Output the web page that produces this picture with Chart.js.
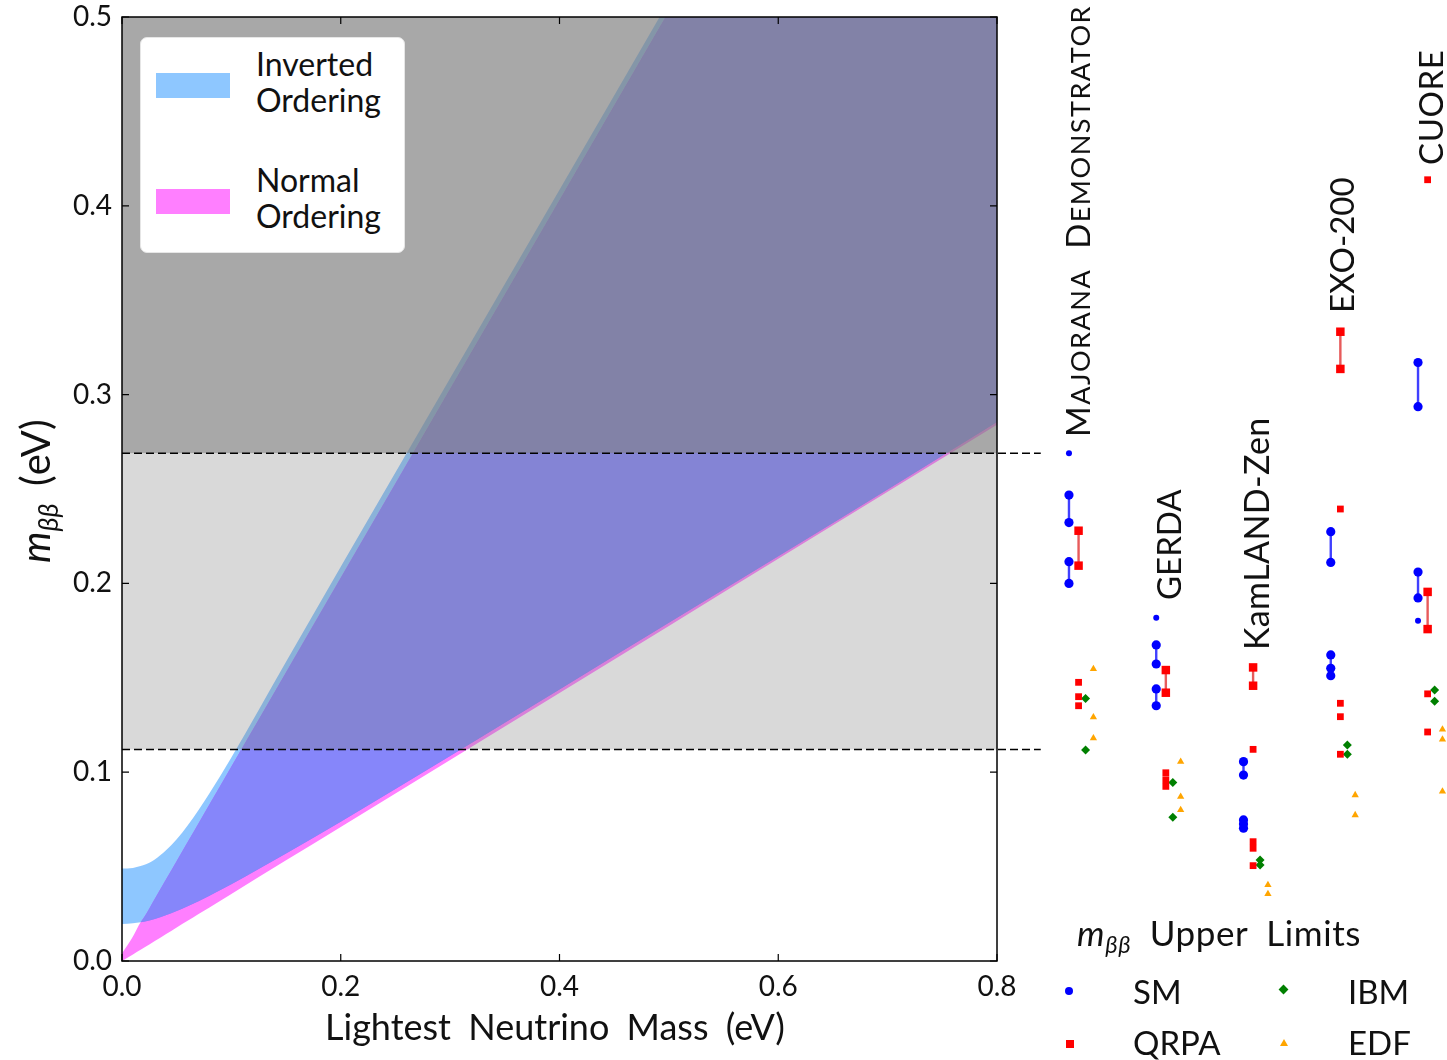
<!DOCTYPE html>
<html>
<head>
<meta charset="utf-8">
<title>m_bb limits</title>
<script src="https://cdn.jsdelivr.net/npm/chart.js@4.4.1/dist/chart.umd.min.js"></script>
<style>
  body { margin: 0; background: #fff; }
  #page { position: relative; width: 1447px; height: 1060px; overflow: hidden;
          font-family: Lato, "DejaVu Sans", sans-serif; color: #111; }
  #page canvas { position: absolute; top: 0; }
  .rot { position: absolute; transform: rotate(-90deg); transform-origin: 0 0;
         white-space: nowrap; line-height: 1; }
  .sc { font-size: 0.82em; text-transform: uppercase; }
  .sub { font-size: 0.68em; font-style: italic; position: relative; top: 0.3em; }
  .txt { position: absolute; white-space: nowrap; line-height: 1; }
  #ordLegend { position: absolute; left: 140px; top: 37px; width: 263px; height: 214px;
               background: #fff; border: 1px solid #e6e6e6; border-radius: 7px; }
  .patch { position: absolute; width: 74px; height: 25px; }
  .mk { position: absolute; }
</style>
</head>
<body>
<div id="page">
  <canvas id="main" width="1447" height="1060" style="left:0"></canvas>
  <canvas id="limits" width="407" height="1060" style="left:1040px"></canvas>

  <div id="ordLegend">
    <div class="patch" style="left:15px;top:35px;background:rgba(30,144,255,0.5)"></div>
    <div class="txt" style="left:115px;top:8px;font-size:32px;line-height:36px">Inverted<br>Ordering</div>
    <div class="patch" style="left:15px;top:151px;background:rgba(255,0,255,0.5)"></div>
    <div class="txt" style="left:115px;top:124px;font-size:32px;line-height:36px">Normal<br>Ordering</div>
  </div>

  <div class="txt" id="xTitle" style="font-size:36px;word-spacing:8px">Lightest Neutrino Mass (eV)</div>
  <div class="rot" id="yTitle" style="font-size:40px;word-spacing:7px"><i>m</i><span class="sub">ββ</span> (eV)</div>

  <div class="rot exp" data-cx="1078" data-yb="437" style="font-size:33px;letter-spacing:1.5px">M<span class="sc">ajorana</span>&nbsp; D<span class="sc">emonstrator</span></div>
  <div class="rot exp" data-cx="1169" data-yb="600" style="font-size:33px">GERDA</div>
  <div class="rot exp" data-cx="1257" data-yb="650" style="font-size:34px;letter-spacing:0.4px">KamLAND-Zen</div>
  <div class="rot exp" data-cx="1342" data-yb="313" style="font-size:33px">EXO-200</div>
  <div class="rot exp" data-cx="1431" data-yb="165" style="font-size:33px;letter-spacing:0.6px">CUORE</div>

  <div class="txt" style="left:1077px;top:915px;font-size:35px;word-spacing:9px;letter-spacing:0.6px"><i>m</i><span class="sub">ββ</span> Upper Limits</div>
  <div class="mk" style="left:1065px;top:987px;width:8px;height:8px;border-radius:50%;background:#0000ff"></div>
  <div class="txt" style="left:1133px;top:975px;font-size:33px">SM</div>
  <div class="mk" style="left:1280px;top:986px;width:7px;height:7px;background:#008000;transform:rotate(45deg)"></div>
  <div class="txt" style="left:1348px;top:975px;font-size:33px">IBM</div>
  <div class="mk" style="left:1066px;top:1040px;width:8px;height:8px;background:#ff0000"></div>
  <div class="txt" style="left:1133px;top:1026px;font-size:33px">QRPA</div>
  <div class="mk" style="left:1280px;top:1039px;width:0;height:0;border-left:4px solid transparent;border-right:4px solid transparent;border-bottom:7px solid #ffa500"></div>
  <div class="txt" style="left:1348px;top:1026px;font-size:33px">EDF</div>
</div>

<script>
// band edges (lightest mass in eV -> m_bb in eV)
const massGrid = [0, 0.01, 0.017, 0.02, 0.03, 0.04, 0.05, 0.06, 0.07, 0.08, 0.10, 0.15, 0.20, 0.30, 0.40, 0.50, 0.60, 0.70, 0.80];
const ioUpper  = [0.049, 0.0493, 0.0503, 0.0508, 0.0538, 0.0585, 0.0645, 0.0718, 0.0800, 0.0888, 0.1078, 0.1585, 0.2088, 0.3086, 0.4085, 0.5085, 0.6085, 0.7085, 0.8085];
const ioLower  = [0.0196, 0.0200, 0.0205, 0.0208, 0.0223, 0.0242, 0.0265, 0.029, 0.0317, 0.0346, 0.0406, 0.0569, 0.0738, 0.1086, 0.1438, 0.1791, 0.2144, 0.2498, 0.2855];
const noUpper  = [0.004, 0.013, 0.0205, 0.023, 0.033, 0.043, 0.053, 0.063, 0.073, 0.083, 0.103, 0.153, 0.203, 0.303, 0.403, 0.503, 0.603, 0.703, 0.803];
const noLower  = [0.000, 0.0035, 0.006, 0.007, 0.0106, 0.0142, 0.0178, 0.0213, 0.0249, 0.0284, 0.0355, 0.0533, 0.071, 0.1065, 0.142, 0.1775, 0.213, 0.2485, 0.284];

// experimental limit levels (eV)
const limitHigh = 0.269;
const limitLow = 0.112;

const experiments = ['Majorana Demonstrator', 'GERDA', 'KamLAND-Zen', 'EXO-200', 'CUORE'];
const smRanges = [
  [[0.2468, 0.2322], [0.2115, 0.2000]],
  [[0.1674, 0.1573], [0.1441, 0.1352]],
  [[0.1056, 0.0985], [0.0747, 0.0725, 0.0703]],
  [[0.2274, 0.2111], [0.1621, 0.1550, 0.1511]],
  [[0.3170, 0.2936], [0.2060, 0.1923]]
];
const smSingles = [[0.2689], [0.1818], [], [], [0.1802]];
const qrpaRanges = [
  [[0.2279, 0.2094]],
  [[0.1541, 0.1421]],
  [[0.1555, 0.1458]],
  [[0.3333, 0.3136]],
  [[0.1955, 0.1758]]
];
const qrpaSingles = [
  [0.1476, 0.1400, 0.1352],
  [0.0997, 0.0960, 0.0925],
  [0.1121, 0.0632, 0.0597, 0.0505],
  [0.2394, 0.1365, 0.1294, 0.1095],
  [0.4138, 0.1415, 0.1213]
];
const ibmValues = [
  [0.1391, 0.1118],
  [0.0946, 0.0761],
  [0.0535, 0.0508],
  [0.1144, 0.1095],
  [0.1436, 0.1376]
];
const edfValues = [
  [0.1547, 0.1291, 0.1180],
  [0.1056, 0.0870, 0.0800],
  [0.0403, 0.0355],
  [0.0879, 0.0773],
  [0.1227, 0.1174, 0.0898]
];

// ---------- main plot ----------
const pts = (ys) => massGrid.map((m, i) => ({ x: m, y: ys[i] }));
const ovPts = [], ovLow = [];
massGrid.forEach((m, i) => {
  const lo = Math.max(ioLower[i], noLower[i]);
  const hi = Math.min(ioUpper[i], noUpper[i]);
  if (hi >= lo) { ovPts.push({ x: m, y: hi }); ovLow.push({ x: m, y: lo }); }
});
const flat = (v, x1) => [{ x: 0, y: v }, { x: x1, y: v }];

const band = (data, fill, color, order) => ({
  data, fill, backgroundColor: color, borderColor: 'transparent', borderWidth: 0,
  pointRadius: 0, cubicInterpolationMode: 'monotone', order
});

const mainData = {
  datasets: [
    band(pts(ioUpper), 1, 'rgba(30,144,255,0.5)', 7),
    band(pts(ioLower), false, 'transparent', 7),
    band(pts(noUpper), 3, 'rgba(255,0,255,0.5)', 6),
    band(pts(noLower), false, 'transparent', 6),
    band(ovPts, 5, 'rgb(134,134,250)', 5),
    band(ovLow, false, 'transparent', 5),
    band(flat(0.5, 0.8), 7, 'rgba(128,128,128,0.685)', 4),
    band(flat(limitHigh, 0.8), false, 'transparent', 4),
    band(flat(limitHigh, 0.8), 9, 'rgba(128,128,128,0.3)', 3),
    band(flat(limitLow, 0.8), false, 'transparent', 3),
    { data: flat(limitHigh, 0.84), borderColor: '#000', borderWidth: 1.5, borderDash: [8, 4],
      pointRadius: 0, fill: false, clip: false, order: 1 },
    { data: flat(limitLow, 0.84), borderColor: '#000', borderWidth: 1.5, borderDash: [8, 4],
      pointRadius: 0, fill: false, clip: false, order: 1 }
  ]
};

const frameTicks = {
  id: 'frameTicks',
  afterDraw(chart) {
    const { ctx, chartArea: a, scales } = chart;
    ctx.save();
    ctx.strokeStyle = '#000';
    ctx.lineWidth = 1.2;
    scales.x.ticks.forEach(t => {
      const px = scales.x.getPixelForValue(t.value);
      ctx.beginPath();
      ctx.moveTo(px, a.bottom); ctx.lineTo(px, a.bottom - 7);
      ctx.moveTo(px, a.top); ctx.lineTo(px, a.top + 7);
      ctx.stroke();
    });
    scales.y.ticks.forEach(t => {
      const py = scales.y.getPixelForValue(t.value);
      ctx.beginPath();
      ctx.moveTo(a.left, py); ctx.lineTo(a.left + 7, py);
      ctx.moveTo(a.right, py); ctx.lineTo(a.right - 7, py);
      ctx.stroke();
    });
    ctx.lineWidth = 1.5;
    ctx.strokeRect(a.left, a.top, a.right - a.left, a.bottom - a.top);
    ctx.restore();
  }
};

const tickFont = { family: 'Lato, "DejaVu Sans", sans-serif', size: 28 };
new Chart(document.getElementById('main'), {
  type: 'line',
  data: mainData,
  options: {
    responsive: false, animation: false, events: [],
    layout: { autoPadding: false, padding: { top: 17, right: 450, left: 0, bottom: 0 } },
    scales: {
      x: {
        type: 'linear', min: 0, max: 0.8,
        grid: { display: false, drawTicks: false }, border: { display: false },
        ticks: { stepSize: 0.2, padding: 9, color: '#111', font: tickFont, maxRotation: 0,
                 callback: v => v.toFixed(1) },
        afterFit: s => { s.height = 99; s.paddingLeft = 0; s.paddingRight = 0; }
      },
      y: {
        type: 'linear', min: 0, max: 0.5,
        grid: { display: false, drawTicks: false }, border: { display: false },
        ticks: { stepSize: 0.1, padding: 10, color: '#111', font: tickFont,
                 callback: v => v.toFixed(1) },
        afterFit: s => { s.width = 122; s.paddingTop = 0; s.paddingBottom = 0; }
      }
    },
    plugins: { legend: { display: false }, tooltip: { enabled: false } }
  },
  plugins: [frameTicks]
});

// ---------- upper limits panel ----------
const modelOffset = { sm: 0, qrpa: 0.11, ibm: 0.19, edf: 0.28 };
function rangePts(ranges, off) {
  const out = [];
  ranges.forEach((list, i) => list.forEach(r => {
    r.forEach(v => out.push({ x: i + off, y: v }));
    out.push({ x: i + off, y: null });
  }));
  return out;
}
function singlePts(values, off) {
  const out = [];
  values.forEach((list, i) => list.forEach(v => out.push({ x: i + off, y: v })));
  return out;
}
const mark = (data, style, color, radius, line) => ({
  data, pointStyle: style, pointRadius: radius, backgroundColor: color, pointBorderWidth: 0,
  pointBorderColor: color, borderColor: line || color, borderWidth: line ? 2.4 : 0,
  showLine: !!line, spanGaps: false, fill: false, clip: false
});

new Chart(document.getElementById('limits'), {
  type: 'line',
  data: {
    datasets: [
      mark(rangePts(smRanges, modelOffset.sm), 'circle', '#0000ff', 4.6, 'rgba(30,30,255,0.85)'),
      mark(singlePts(smSingles, modelOffset.sm), 'circle', '#0000ff', 3),
      mark(rangePts(qrpaRanges, modelOffset.qrpa), 'rect', '#ff0000', 6, 'rgba(225,50,50,0.8)'),
      mark(singlePts(qrpaSingles, modelOffset.qrpa), 'rect', '#ff0000', 4.8),
      mark(singlePts(ibmValues, modelOffset.ibm), 'rectRot', '#008000', 4.5),
      mark(singlePts(edfValues, modelOffset.edf), 'triangle', '#ffa500', 4.2)
    ]
  },
  options: {
    responsive: false, animation: false, events: [],
    layout: { autoPadding: false, padding: { top: 17, bottom: 99, left: 0, right: 0 } },
    scales: {
      x: { type: 'linear', display: false, min: -0.332, max: 4.332 },
      y: { type: 'linear', display: false, min: 0, max: 0.5 }
    },
    plugins: { legend: { display: false }, tooltip: { enabled: false } }
  }
});

// ---------- text placement ----------
document.querySelectorAll('.exp').forEach(el => {
  const fs = parseFloat(el.style.fontSize);
  el.style.left = (parseFloat(el.dataset.cx) - fs * 0.53) + 'px';
  el.style.top = el.dataset.yb + 'px';
});
const xt = document.getElementById('xTitle');
xt.style.left = (555 - xt.offsetWidth / 2) + 'px';
xt.style.top = (1027 - 19) + 'px';
const yt = document.getElementById('yTitle');
yt.style.left = (36 - 21) + 'px';
yt.style.top = (491 + yt.offsetWidth / 2) + 'px';
</script>
</body>
</html>
